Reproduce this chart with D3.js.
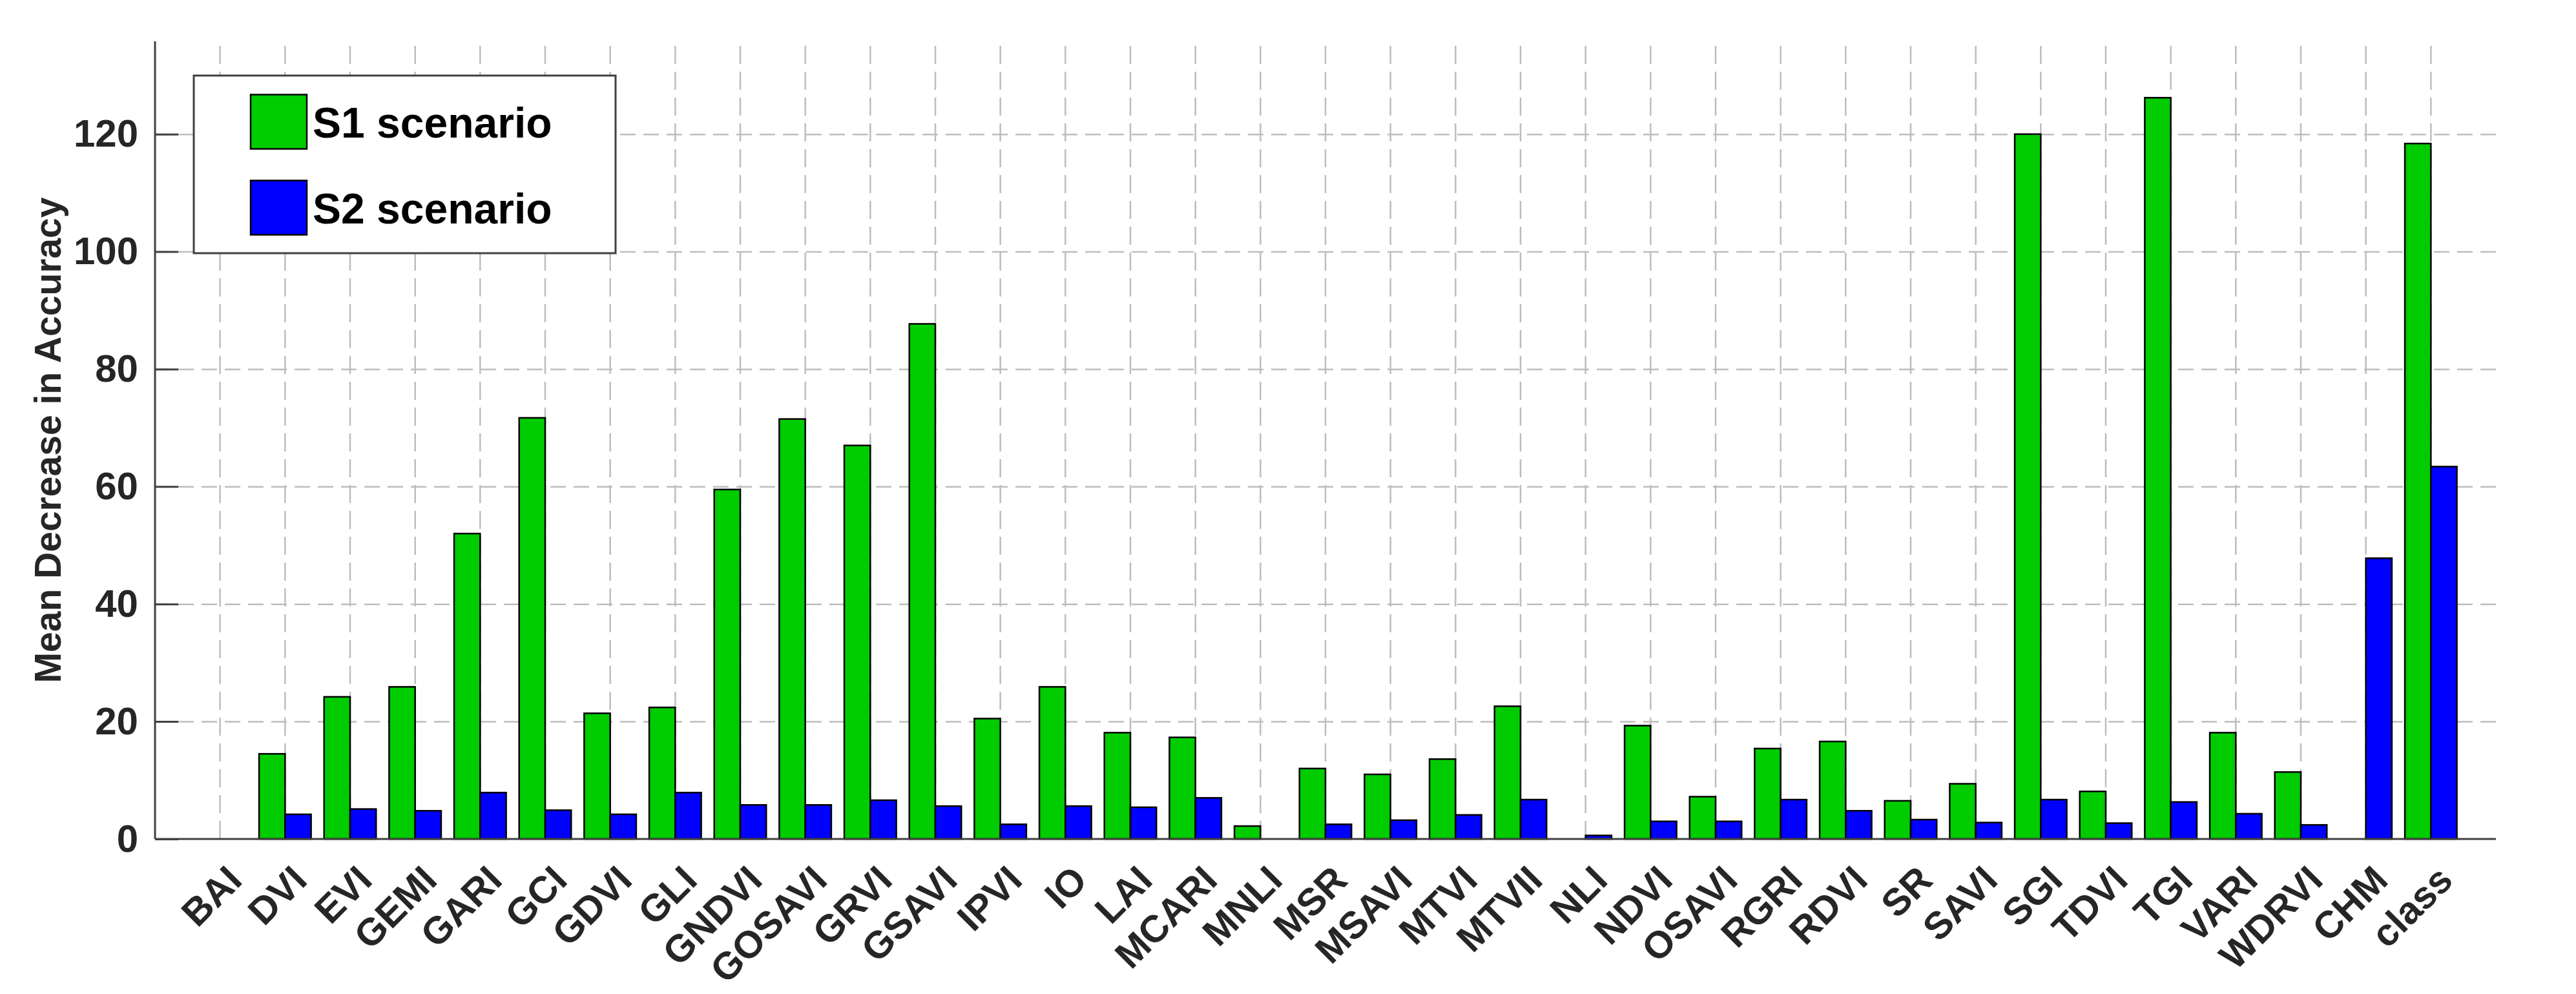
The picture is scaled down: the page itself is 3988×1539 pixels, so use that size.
<!DOCTYPE html>
<html>
<head>
<meta charset="utf-8">
<script src="https://cdn.jsdelivr.net/npm/d3@7"></script>
<style>
  html, body { margin: 0; padding: 0; background: #ffffff; }
  svg { display: block; }
</style>
</head>
<body>
<script>
// ---------------- data ----------------
const categories = ["BAI","DVI","EVI","GEMI","GARI","GCI","GDVI","GLI","GNDVI","GOSAVI",
  "GRVI","GSAVI","IPVI","IO","LAI","MCARI","MNLI","MSR","MSAVI","MTVI","MTVII","NLI",
  "NDVI","OSAVI","RGRI","RDVI","SR","SAVI","SGI","TDVI","TGI","VARI","WDRVI","CHM","class"];
const s1Values = [0, 14.5, 24.2, 25.9, 52.0, 71.7, 21.4, 22.4, 59.5, 71.5,
  67.0, 87.7, 20.5, 25.9, 18.1, 17.3, 2.2, 12.0, 11.0, 13.6, 22.6, 0,
  19.3, 7.2, 15.4, 16.6, 6.5, 9.4, 120.0, 8.1, 126.2, 18.1, 11.4, 0, 118.4];
const s2Values = [0, 4.2, 5.1, 4.8, 7.9, 4.9, 4.2, 7.9, 5.8, 5.8,
  6.6, 5.6, 2.5, 5.6, 5.4, 7.0, 0, 2.5, 3.2, 4.1, 6.7, 0.6,
  3.0, 3.0, 6.7, 4.8, 3.3, 2.8, 6.7, 2.7, 6.3, 4.3, 2.4, 47.8, 63.4];
const seriesNames = ["S1 scenario", "S2 scenario"];
const seriesColors = ["#00cc00", "#0000ff"];
const yTicks = [0, 20, 40, 60, 80, 100, 120];
const yLabel = "Mean Decrease in Accuracy";

// ---------------- layout ----------------
const W = 3988, H = 1539;
const plot = { left: 240, right: 3864, top: 64, bottom: 1299 };
const yMax = 135.8;
const textColor = "#262626";
const axisColor = "#404040";
const font = "'Liberation Sans', Arial, Helvetica, sans-serif";

const svg = d3.select("body").append("svg")
  .attr("width", W).attr("height", H)
  .style("font-family", font);

svg.append("rect").attr("width", W).attr("height", H).attr("fill", "#fff");

const x = d3.scaleBand().domain(categories)
  .range([plot.left, plot.right]).paddingInner(0).paddingOuter(0.5);
const x1 = d3.scaleBand().domain(seriesNames)
  .range([0, x.bandwidth()]).paddingInner(0).paddingOuter(0.25);
const y = d3.scaleLinear().domain([0, yMax]).range([plot.bottom, plot.top]);

// ---------------- grid ----------------
const gridColor = "#bdbdbd";
const vGrid = svg.append("g")
  .attr("transform", `translate(0,${plot.bottom})`)
  .call(d3.axisBottom(x).tickSize(-(plot.bottom - plot.top)).tickFormat(""));
vGrid.select(".domain").remove();
vGrid.selectAll(".tick line")
  .attr("stroke", gridColor).attr("stroke-width", 2.5)
  .attr("stroke-dasharray", "28 12");

const hGrid = svg.append("g")
  .attr("transform", `translate(${plot.left},0)`)
  .call(d3.axisLeft(y).tickValues(yTicks.filter(t => t > 0))
    .tickSize(-(plot.right - plot.left)).tickFormat(""));
hGrid.select(".domain").remove();
hGrid.selectAll(".tick line")
  .attr("stroke", gridColor).attr("stroke-width", 2.5)
  .attr("stroke-dasharray", "24 12");

// ---------------- bars ----------------
const rows = categories.map((c, i) => ({ c, vals: [s1Values[i], s2Values[i]] }));
const groups = svg.append("g").selectAll("g").data(rows).join("g")
  .attr("transform", d => `translate(${x(d.c)},0)`);
groups.selectAll("rect")
  .data(d => d.vals.map((v, k) => ({ v, k })))
  .join("rect")
  .attr("x", d => x1(seriesNames[d.k]))
  .attr("width", x1.bandwidth())
  .attr("y", d => y(d.v))
  .attr("height", d => Math.max(0, y(0) - y(d.v)))
  .attr("fill", d => seriesColors[d.k])
  .attr("stroke", "#000")
  .attr("stroke-width", 2.5);

// ---------------- axes ----------------
const yAxis = svg.append("g")
  .attr("transform", `translate(${plot.left},0)`)
  .call(d3.axisLeft(y).tickValues(yTicks).tickSize(-36).tickPadding(26));
yAxis.select(".domain").attr("stroke", axisColor).attr("stroke-width", 3)
  .attr("d", `M0,${plot.top}V${plot.bottom}`);
yAxis.selectAll(".tick line").attr("stroke", axisColor).attr("stroke-width", 3);
yAxis.selectAll(".tick text")
  .attr("fill", textColor).style("font-size", "60px").style("font-weight", "bold")
  .style("font-family", font);

const xAxis = svg.append("g")
  .attr("transform", `translate(0,${plot.bottom})`)
  .call(d3.axisBottom(x).tickSize(0).tickPadding(0));
xAxis.select(".domain").attr("stroke", axisColor).attr("stroke-width", 3)
  .attr("d", `M${plot.left},0H${plot.right}`);
xAxis.selectAll(".tick text")
  .attr("fill", textColor).style("font-size", "59px").style("font-weight", "bold")
  .style("font-family", font)
  .attr("text-anchor", "end")
  .attr("dy", null)
  .attr("y", null)
  .attr("transform", "translate(37,67) rotate(-45)");

// y label
svg.append("text")
  .attr("transform", `translate(94,${(plot.top + plot.bottom) / 2}) rotate(-90)`)
  .attr("text-anchor", "middle")
  .attr("fill", textColor)
  .style("font-size", "57px").style("font-weight", "bold")
  .text(yLabel);

// ---------------- legend ----------------
const lg = svg.append("g");
lg.append("rect")
  .attr("x", 300).attr("y", 117).attr("width", 653).attr("height", 275)
  .attr("fill", "#fff").attr("stroke", axisColor).attr("stroke-width", 3);
const legendRows = [188.5, 321.5];
seriesNames.forEach((name, k) => {
  const cy = legendRows[k];
  lg.append("rect")
    .attr("x", 388).attr("y", cy - 42).attr("width", 87).attr("height", 84)
    .attr("fill", seriesColors[k]).attr("stroke", "#000").attr("stroke-width", 2.5);
  lg.append("text")
    .attr("x", 484).attr("y", cy + 24)
    .attr("fill", "#000")
    .style("font-size", "66px").style("font-weight", "bold")
    .text(name);
});
</script>
</body>
</html>
